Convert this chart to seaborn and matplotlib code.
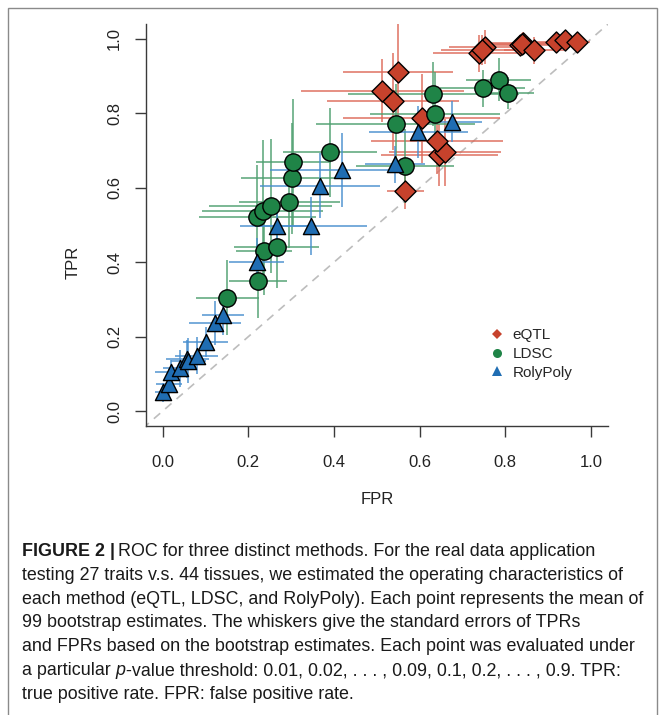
import numpy as np
import pandas as pd
import seaborn as sns
import matplotlib
matplotlib.use("Agg")
import matplotlib.pyplot as plt
from matplotlib.lines import Line2D
from matplotlib.patches import Rectangle

# ---------------- data ----------------
methods = ["eQTL", "LDSC", "RolyPoly"]

eqtl_fpr = [0.566, 0.646, 0.659, 0.641, 0.605, 0.538, 0.513, 0.550, 0.739,
            0.753, 0.745, 0.835, 0.842, 0.838, 0.868, 0.918, 0.939, 0.967]
eqtl_tpr = [0.591, 0.688, 0.695, 0.727, 0.787, 0.832, 0.861, 0.910, 0.961,
            0.979, 0.970, 0.984, 0.990, 0.986, 0.970, 0.993, 0.997, 0.991]
eqtl_fpr_se = [0.043, 0.136, 0.130, 0.154, 0.183, 0.154, 0.190, 0.128, 0.108,
               0.085, 0.095, 0.090, 0.080, 0.100, 0.070, 0.045, 0.040, 0.030]
eqtl_tpr_se = [0.047, 0.083, 0.090, 0.090, 0.120, 0.130, 0.085, 0.130, 0.050,
               0.045, 0.040, 0.027, 0.030, 0.030, 0.036, 0.015, 0.012, 0.012]

ldsc_fpr = [0.151, 0.223, 0.237, 0.266, 0.221, 0.233, 0.252, 0.296, 0.301,
            0.305, 0.391, 0.566, 0.544, 0.636, 0.632, 0.747, 0.785, 0.807]
ldsc_tpr = [0.305, 0.349, 0.431, 0.440, 0.521, 0.538, 0.552, 0.563, 0.625,
            0.668, 0.695, 0.659, 0.772, 0.798, 0.852, 0.867, 0.890, 0.854]
ldsc_fpr_se = [0.074, 0.068, 0.065, 0.100, 0.136, 0.142, 0.144, 0.117, 0.119,
               0.088, 0.110, 0.115, 0.185, 0.152, 0.200, 0.100, 0.076, 0.060]
ldsc_tpr_se = [0.100, 0.100, 0.120, 0.110, 0.140, 0.190, 0.180, 0.125, 0.150,
               0.170, 0.120, 0.100, 0.108, 0.114, 0.087, 0.050, 0.058, 0.043]

roly_fpr = [0.001, 0.015, 0.019, 0.040, 0.057, 0.060, 0.079, 0.100, 0.122,
            0.140, 0.219, 0.266, 0.346, 0.367, 0.418, 0.543, 0.597, 0.675]
roly_tpr = [0.050, 0.073, 0.106, 0.115, 0.140, 0.135, 0.149, 0.186, 0.237,
            0.258, 0.401, 0.498, 0.498, 0.606, 0.648, 0.663, 0.751, 0.778]
roly_fpr_se = [0.020, 0.030, 0.038, 0.040, 0.050, 0.040, 0.050, 0.052, 0.060,
               0.049, 0.065, 0.085, 0.130, 0.140, 0.167, 0.070, 0.115, 0.070]
roly_tpr_se = [0.025, 0.040, 0.030, 0.050, 0.050, 0.060, 0.050, 0.040, 0.060,
               0.055, 0.065, 0.060, 0.078, 0.087, 0.100, 0.050, 0.070, 0.055]

x_ticks = [0.0, 0.2, 0.4, 0.6, 0.8, 1.0]
y_ticks = [0.0, 0.2, 0.4, 0.6, 0.8, 1.0]
tick_labels = ["0.0", "0.2", "0.4", "0.6", "0.8", "1.0"]

caption_lines = [
    [("FIGURE 2 |", "bold", "normal"), ("ROC for three distinct methods. For the real data application", "normal", "normal")],
    [("testing 27 traits v.s. 44 tissues, we estimated the operating characteristics of", "normal", "normal")],
    [("each method (eQTL, LDSC, and RolyPoly). Each point represents the mean of", "normal", "normal")],
    [("99 bootstrap estimates. The whiskers give the standard errors of TPRs", "normal", "normal")],
    [("and FPRs based on the bootstrap estimates. Each point was evaluated under", "normal", "normal")],
    [("a particular", "normal", "normal"), ("p", "normal", "italic"),
     ("-value threshold: 0.01, 0.02, . . . , 0.09, 0.1, 0.2, . . . , 0.9. TPR:", "normal", "normal")],
    [("true positive rate. FPR: false positive rate.", "normal", "normal")],
]

# ---------------- styling ----------------
colors = {"eQTL": "#C7422C", "LDSC": "#1F8447", "RolyPoly": "#1F6DB3"}
bar_colors = {"eQTL": "#DE6A5A", "LDSC": "#4FA070", "RolyPoly": "#4A8FCF"}
markers = {"eQTL": "D", "LDSC": "o", "RolyPoly": "^"}
msizes = {"eQTL": 115, "LDSC": 155, "RolyPoly": 135}

df = pd.concat([
    pd.DataFrame({"method": "eQTL", "FPR": eqtl_fpr, "TPR": eqtl_tpr,
                  "FPR_se": eqtl_fpr_se, "TPR_se": eqtl_tpr_se}),
    pd.DataFrame({"method": "LDSC", "FPR": ldsc_fpr, "TPR": ldsc_tpr,
                  "FPR_se": ldsc_fpr_se, "TPR_se": ldsc_tpr_se}),
    pd.DataFrame({"method": "RolyPoly", "FPR": roly_fpr, "TPR": roly_tpr,
                  "FPR_se": roly_fpr_se, "TPR_se": roly_tpr_se}),
], ignore_index=True)

sns.set_theme(style="white")
plt.rcParams["font.family"] = ["Liberation Sans", "DejaVu Sans"]

W, H = 665, 715
fig = plt.figure(figsize=(W / 100, H / 100), dpi=100)
fig.patch.set_facecolor("white")

ax_l, ax_r, ax_t, ax_b = 145.6, 608.1, 24.1, 425.9
ax = fig.add_axes([ax_l / W, 1 - ax_b / H, (ax_r - ax_l) / W, (ax_b - ax_t) / H])
ax.set_facecolor("white")

# diagonal reference line
ax.plot([-0.1, 1.1], [-0.1, 1.1], color="#BDBDBD", lw=1.2, ls=(0, (5, 4)), zorder=1)

# error bars
for m in methods:
    d = df[df.method == m]
    ax.errorbar(d.FPR, d.TPR, xerr=d.FPR_se, yerr=d.TPR_se, fmt="none",
                ecolor=bar_colors[m], alpha=0.75, elinewidth=1.4, capsize=0, zorder=2)

# points
for m in methods:
    d = df[df.method == m]
    sns.scatterplot(data=d, x="FPR", y="TPR", marker=markers[m], s=msizes[m],
                    color=colors[m], edgecolor="black", linewidth=1.0,
                    ax=ax, zorder=3, legend=False)

ax.set_xlim(-0.04, 1.04)
ax.set_ylim(-0.04, 1.04)
ax.set_xticks(x_ticks)
ax.set_xticklabels(tick_labels)
ax.set_yticks(y_ticks)
ax.set_yticklabels(tick_labels)
for side in ["top", "right"]:
    ax.spines[side].set_visible(False)
for side in ["left", "bottom"]:
    ax.spines[side].set_color("#3a3a3a")
    ax.spines[side].set_linewidth(1.0)
ax.tick_params(axis="both", direction="out", length=8, width=1.0, color="#3a3a3a",
               labelsize=12, labelcolor="#222222", bottom=True, left=True)
ax.tick_params(axis="x", pad=13)
ax.tick_params(axis="y", pad=9)
for lab in ax.get_yticklabels():
    lab.set_rotation(90)
    lab.set_va("center")
    lab.set_ha("right")

ax.set_xlabel("FPR", fontsize=12, color="#222222")
ax.set_ylabel("TPR", fontsize=12, color="#222222")
ax.xaxis.set_label_coords(0.5, (ax_b - 499) / (ax_b - ax_t))
ax.xaxis.label.set_va("center")
ax.yaxis.set_label_coords((73 - ax_l) / (ax_r - ax_l), (ax_b - 262) / (ax_b - ax_t))
ax.yaxis.label.set_va("center")

handles = [Line2D([], [], marker=markers[m], linestyle="none",
                  color=colors[m], markeredgewidth=0,
                  markersize={"eQTL": 5, "LDSC": 6.5, "RolyPoly": 7}[m], label=m)
           for m in methods]
ax.legend(handles=handles, loc="upper left", bbox_to_anchor=(489 / W, 1 - 328 / H),
          bbox_transform=fig.transFigure, frameon=False, fontsize=11,
          handlelength=1.0, handletextpad=0.55, labelspacing=0.32, borderpad=0,
          borderaxespad=0)

# ---------------- caption ----------------
cap_font = ["Liberation Sans", "DejaVu Sans"]
cap_size = 12.85
renderer = fig.canvas.get_renderer()
x0 = 22
y_first = 556
dy = 23.8


def text_width(s, weight, style):
    t = fig.text(0, 0, s, fontsize=cap_size, family=cap_font, weight=weight, style=style)
    w = t.get_window_extent(renderer).width
    t.remove()
    return w


space_w = text_width("a a", "normal", "normal") - text_width("aa", "normal", "normal")
for i, segs in enumerate(caption_lines):
    x = x0
    yb = y_first + i * dy
    for j, (s, wgt, sty) in enumerate(segs):
        t = fig.text(x / W, 1 - yb / H, s, fontsize=cap_size, family=cap_font,
                     weight=wgt, style=sty, ha="left", va="baseline", color="#1a1a1a")
        x += t.get_window_extent(renderer).width
        if j < len(segs) - 1:
            if s == "FIGURE 2 |":
                x += 3
            elif s == "p":
                x += 0.5
            else:
                x += space_w

# figure frame
fig.add_artist(Rectangle((8 / W, -0.1), (657 - 8) / W, 1.1 - 8 / H,
                         transform=fig.transFigure, fill=False,
                         edgecolor="#8a8a8a", lw=1.0))

fig.savefig("out.png", dpi=100, facecolor="white")
